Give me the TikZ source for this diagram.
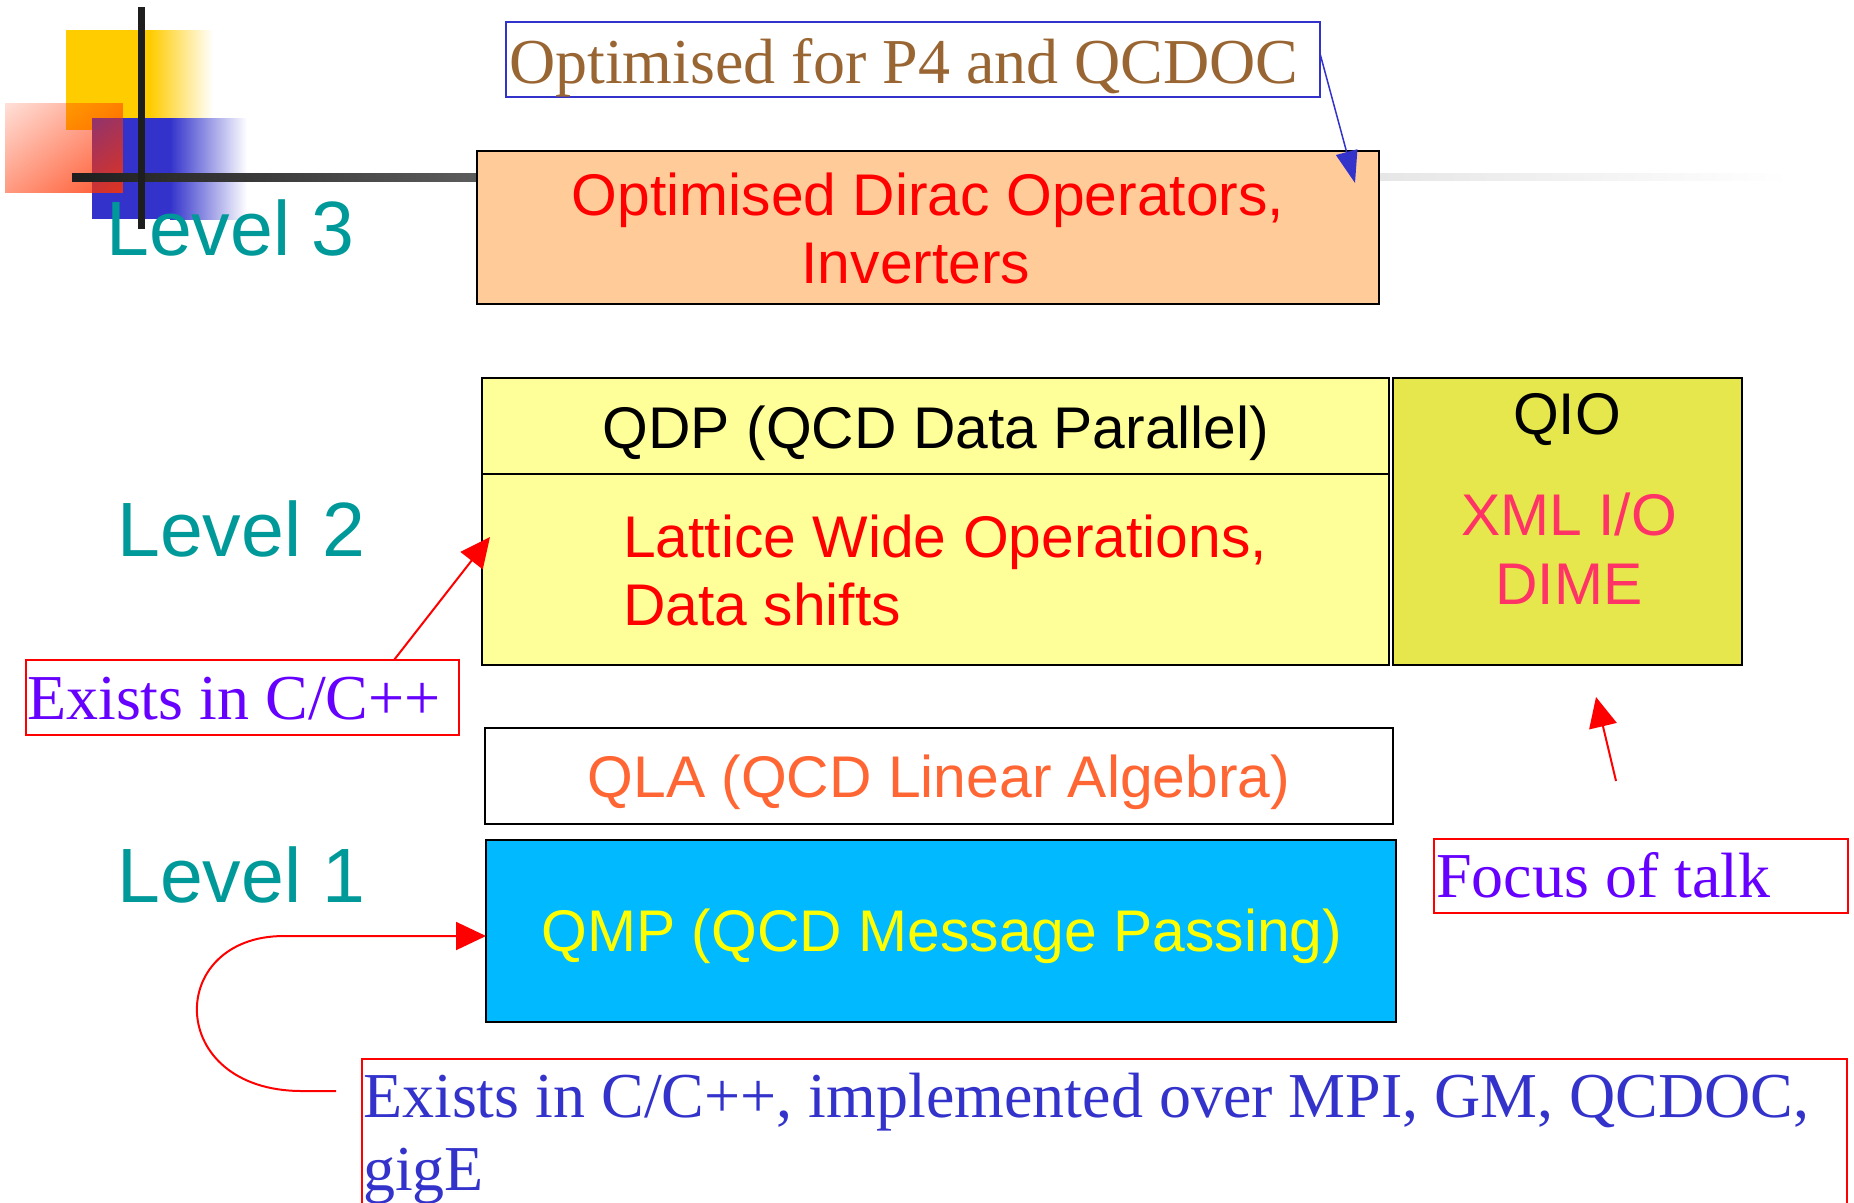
\documentclass[tikz,border=0pt]{standalone}
\usepackage{fontspec}
\setmainfont{Liberation Serif}
\setsansfont{Liberation Sans}
\usetikzlibrary{arrows.meta,fadings}
\definecolor{levelc}{HTML}{009999}
\definecolor{peach}{HTML}{FFCC99}
\definecolor{qdpfill}{HTML}{FFFF99}
\definecolor{qiofill}{HTML}{E6E64D}
\definecolor{xmlc}{HTML}{FF3366}
\definecolor{qlac}{HTML}{FF6633}
\definecolor{qmpfill}{HTML}{00B9FF}
\definecolor{qmptext}{HTML}{FFFF00}
\definecolor{violetc}{HTML}{6600FF}
\definecolor{bluec}{HTML}{3333CC}
\definecolor{brownc}{HTML}{996633}
\definecolor{decoyel}{HTML}{FFCC00}
\definecolor{decoblue}{HTML}{3333CC}
\definecolor{decored}{HTML}{FF3300}
\definecolor{barA}{HTML}{1E1E1E}
\definecolor{barB}{HTML}{5C5C5C}
\definecolor{barC}{HTML}{E6E6E6}

\begin{tikzfadingfrompicture}[name=redfade]
  \shade[left color=transparent!100, right color=transparent!0, shading angle=45] (-51pt,-51pt) rectangle (51pt,51pt);
\end{tikzfadingfrompicture}

\begin{document}
\begin{tikzpicture}[x=1pt,y=-1pt,
  lvl/.style={font=\sffamily\fontsize{77}{90}\selectfont, text=levelc, anchor=base west, inner sep=0pt},
  boxtxt/.style={font=\sffamily\fontsize{58.8}{68}\selectfont, anchor=base, inner sep=0pt},
  note/.style={font=\rmfamily\fontsize{64}{74}\selectfont, anchor=base west, inner sep=0pt},
  layer/.style={draw=black, line width=2.5pt, anchor=north west, inner sep=0pt, outer sep=0pt},
  notebox/.style={line width=2pt, anchor=north west, inner sep=0pt, outer sep=0pt},
  redarrow/.style={draw=red, line width=2pt, -{Triangle[length=30pt,width=28pt]}}
]
\useasboundingbox (0,0) rectangle (1854,1202);
\clip (0,0) rectangle (1854,1202);

% decoration
\fill[decoyel] (66,30) rectangle (151,130);
\shade[left color=decoyel, right color=white] (150,30) rectangle (213,130);
\fill[decoblue] (92,118) rectangle (171,219);
\shade[left color=decoblue, right color=white] (170,118) rectangle (247,219);
\fill[decored, path fading=redfade] (5,103) rectangle (123,193);
\shade[left color=barA, right color=barB] (72,173) rectangle (478,181);
\shade[left color=barC, right color=white] (1379,173) rectangle (1790,180);
\node[lvl] (lv3) at (106,255) {Level 3};
\fill[barA] (138,7) rectangle (145,229);

\node[lvl] (lv2) at (117,556) {Level 2};
\node[lvl] (lv1) at (117,902) {Level 1};

% layer boxes
\node[layer, fill=peach, minimum width=902pt, minimum height=153pt] (dirac) at (477,151) {};
\node[layer, fill=qdpfill, minimum width=907pt, minimum height=287pt] (qdp) at (482,378) {};
\draw[line width=2.5pt] (qdp.west |- 0,474) -- (qdp.east |- 0,474);
\node[layer, fill=qiofill, minimum width=349pt, minimum height=287pt] (qio) at (1393,378) {};
\node[layer, fill=white, minimum width=908pt, minimum height=96pt] (qla) at (485,728) {};
\node[layer, fill=qmpfill, minimum width=910pt, minimum height=182pt] (qmp) at (486,840) {};

\node[boxtxt, text=red] (dir1) at (928,215) {Optimised Dirac Operators,};
\node[boxtxt, text=red] (dir2) at (916,283) {Inverters};
\node[boxtxt, text=black] (qdpt) at (936,448) {QDP (QCD Data Parallel)};
\node[boxtxt, text=red, anchor=base west] (lat1) at (623,557) {Lattice Wide Operations,};
\node[boxtxt, text=red, anchor=base west] (lat2) at (623,625) {Data shifts};
\node[boxtxt, text=black] (qiot) at (1567,434) {QIO};
\node[boxtxt, text=xmlc] (xml) at (1569,535) {XML I/O};
\node[boxtxt, text=xmlc] (dime) at (1569,604) {DIME};
\node[boxtxt, text=qlac] (qlat) at (939,797) {QLA (QCD Linear Algebra)};
\node[boxtxt, text=qmptext] (qmpt) at (942,951) {QMP (QCD Message Passing)};

% annotation boxes
\node[notebox, draw=bluec, minimum width=814pt, minimum height=75pt] (p4box) at (506,22) {};
\node[notebox, draw=red, minimum width=433pt, minimum height=75pt] (exbox) at (26,660) {};
\node[notebox, draw=red, minimum width=414pt, minimum height=74pt] (focusbox) at (1434,839) {};
\node[notebox, draw=red, minimum width=1485pt, minimum height=220pt] (implbox) at (362,1059) {};

\node[note, text=brownc] (p4t) at (509,83) {Optimised for P4 and QCDOC};
\node[note, text=violetc] (ext) at (27,719) {Exists in C/C++};
\node[note, text=violetc] (foct) at (1436,897) {Focus of talk};
\node[note, text=bluec] (impl1) at (363,1117) {Exists in C/C++, implemented over MPI, GM, QCDOC,};
\node[note, text=bluec] (impl2) at (363,1190) {gigE};

% connectors
\draw[draw=bluec, line width=1.5pt, -{Triangle[length=32pt,width=22pt]}]
  ([yshift=6pt]p4box.east) -- ([xshift=-24pt,yshift=-32pt]dirac.north east);
\draw[redarrow] ([xshift=368pt]exbox.north west) -- ([xshift=8pt,yshift=-159pt]qdp.north west);
\coordinate (focustail) at (1616,781);
\coordinate (focustip) at (1596,697);
\draw[redarrow] (focustail) -- (focustip);
\coordinate (qmptail) at (336,1091);
\draw[redarrow] (qmptail) -- (302,1091) .. controls (165,1091) and (165,936) .. (284,936) -- ([yshift=-5pt]qmp.west);
\end{tikzpicture}
\end{document}
